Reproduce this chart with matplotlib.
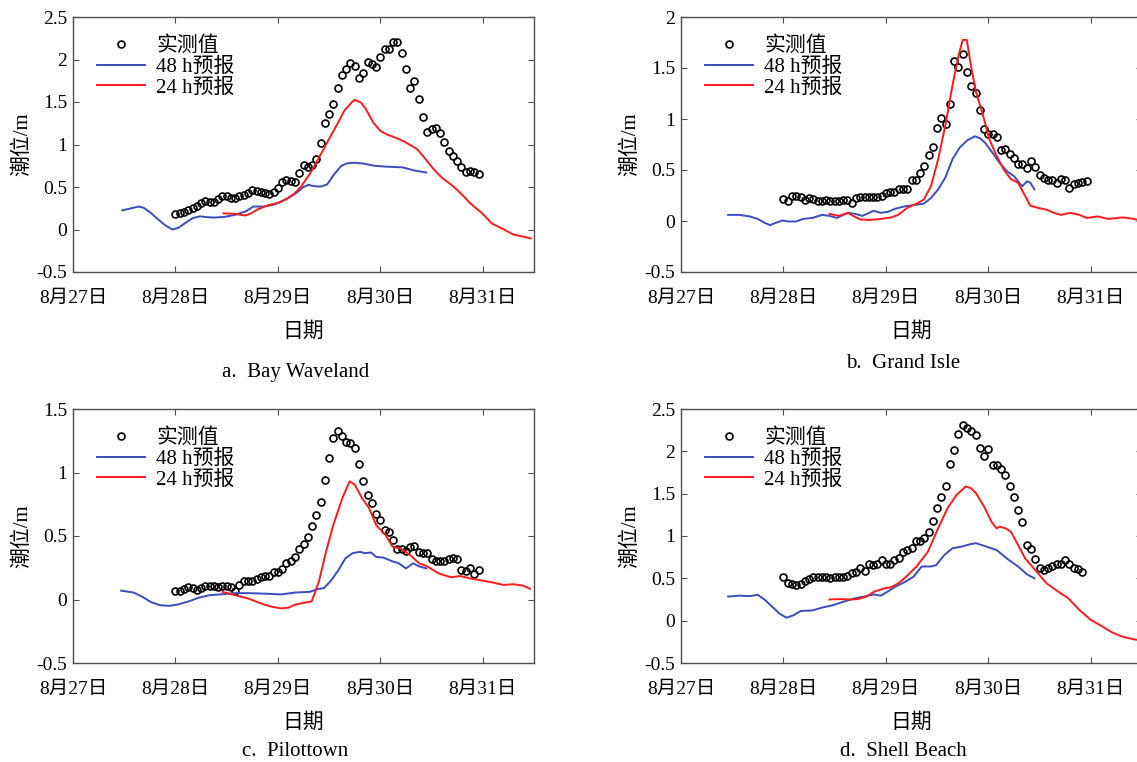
import numpy as np
import matplotlib
matplotlib.use("Agg")
import matplotlib.pyplot as plt

plt.rcParams['font.family'] = ['Liberation Serif', 'Noto Sans CJK SC']
plt.rcParams['axes.unicode_minus'] = False

# ---------------- data (x in day of August) ----------------
# a. Bay Waveland
obs_a = [0.185, 0.19, 0.21, 0.23, 0.25, 0.28, 0.315, 0.33, 0.32, 0.32, 0.355, 0.40,
         0.39, 0.365, 0.365, 0.40, 0.41, 0.43, 0.46, 0.45, 0.44, 0.43, 0.42, 0.445,
         0.49, 0.56, 0.585, 0.57, 0.56, 0.66, 0.755, 0.74, 0.755, 0.83, 1.015, 1.25,
         1.355, 1.475, 1.67, 1.815, 1.89, 1.955, 1.92, 1.78, 1.84, 1.975, 1.95, 1.91,
         2.035, 2.12, 2.12, 2.21, 2.21, 2.075, 1.89, 1.67, 1.745, 1.535, 1.32, 1.15,
         1.18, 1.19, 1.13, 1.03, 0.925, 0.865, 0.805, 0.73, 0.675, 0.69, 0.68, 0.655]
t48_a = [27.48, 27.57, 27.64, 27.69, 27.76, 27.83, 27.90, 27.97, 28.03, 28.10, 28.17,
         28.24, 28.31, 28.38, 28.49, 28.59, 28.69, 28.76, 28.87, 28.97, 29.04, 29.11,
         29.18, 29.25, 29.30, 29.35, 29.42, 29.48, 29.55, 29.62, 29.68, 29.75, 29.84,
         29.94, 30.05, 30.15, 30.22, 30.33, 30.45]
f48_a = [0.225, 0.25, 0.27, 0.255, 0.195, 0.12, 0.05, 0.0, 0.02, 0.08, 0.135, 0.155,
         0.145, 0.14, 0.15, 0.175, 0.215, 0.27, 0.27, 0.295, 0.335, 0.375, 0.43, 0.50,
         0.525, 0.51, 0.505, 0.53, 0.65, 0.75, 0.78, 0.785, 0.775, 0.75, 0.74, 0.735,
         0.73, 0.695, 0.67]
t24_a = [28.47, 28.57, 28.68, 28.73, 28.80, 28.90, 29.01, 29.08, 29.16, 29.23, 29.32,
         29.41, 29.49, 29.58, 29.65, 29.72, 29.75, 29.81, 29.86, 29.93, 30.00, 30.07,
         30.15, 30.24, 30.29, 30.36, 30.43, 30.52, 30.60, 30.71, 30.81, 30.88, 30.99,
         31.09, 31.19, 31.30, 31.40, 31.47]
f24_a = [0.19, 0.185, 0.165, 0.185, 0.235, 0.285, 0.315, 0.355, 0.42, 0.51, 0.67,
         0.865, 1.045, 1.24, 1.40, 1.495, 1.525, 1.495, 1.415, 1.26, 1.16, 1.115, 1.08,
         1.03, 0.995, 0.945, 0.845, 0.71, 0.61, 0.51, 0.395, 0.305, 0.195, 0.07, 0.01,
         -0.06, -0.085, -0.105]

# b. Grand Isle
obs_b = [0.215, 0.20, 0.245, 0.25, 0.235, 0.21, 0.23, 0.215, 0.195, 0.195, 0.21, 0.195,
         0.195, 0.195, 0.21, 0.21, 0.18, 0.225, 0.235, 0.235, 0.235, 0.235, 0.235, 0.25,
         0.27, 0.285, 0.285, 0.31, 0.31, 0.31, 0.40, 0.405, 0.475, 0.54, 0.645, 0.73,
         0.91, 1.005, 0.95, 1.15, 1.57, 1.51, 1.64, 1.465, 1.32, 1.255, 1.09, 0.90,
         0.855, 0.855, 0.82, 0.70, 0.705, 0.655, 0.62, 0.555, 0.555, 0.52, 0.585, 0.525,
         0.45, 0.425, 0.40, 0.40, 0.37, 0.415, 0.40, 0.325, 0.36, 0.375, 0.385, 0.39]
t48_b = [27.46, 27.57, 27.67, 27.75, 27.82, 27.87, 27.92, 27.99, 28.05, 28.12, 28.19,
         28.28, 28.38, 28.45, 28.52, 28.63, 28.70, 28.77, 28.88, 28.95, 29.02, 29.09,
         29.19, 29.30, 29.37, 29.44, 29.51, 29.58, 29.65, 29.72, 29.80, 29.87, 29.92,
         29.97, 30.04, 30.11, 30.18, 30.25, 30.33, 30.38, 30.41, 30.45]
f48_b = [0.06, 0.06, 0.045, 0.02, -0.02, -0.04, -0.02, 0.005, -0.005, -0.005, 0.02,
         0.03, 0.06, 0.05, 0.03, 0.08, 0.07, 0.05, 0.10, 0.08, 0.09, 0.12, 0.145, 0.16,
         0.17, 0.225, 0.31, 0.425, 0.605, 0.72, 0.795, 0.83, 0.81, 0.765, 0.67, 0.57,
         0.49, 0.44, 0.34, 0.39, 0.375, 0.31]
t24_b = [28.45, 28.54, 28.63, 28.70, 28.75, 28.84, 28.95, 29.05, 29.12, 29.21, 29.30,
         29.37, 29.44, 29.51, 29.58, 29.65, 29.71, 29.75, 29.79, 29.83, 29.88, 29.94,
         30.01, 30.08, 30.15, 30.22, 30.29, 30.36, 30.41, 30.48, 30.57, 30.64, 30.71,
         30.80, 30.89, 30.96, 31.07, 31.17, 31.31, 31.40, 31.50]
f24_b = [0.07, 0.05, 0.08, 0.04, 0.015, 0.01, 0.02, 0.035, 0.06, 0.13, 0.17, 0.21,
         0.34, 0.605, 0.935, 1.33, 1.625, 1.775, 1.775, 1.525, 1.265, 1.065, 0.80, 0.64,
         0.505, 0.41, 0.375, 0.245, 0.15, 0.13, 0.11, 0.08, 0.06, 0.08, 0.06, 0.03,
         0.045, 0.02, 0.035, 0.025, 0.0]

# c. Pilottown
obs_c = [0.07, 0.065, 0.08, 0.10, 0.09, 0.075, 0.09, 0.105, 0.11, 0.11, 0.10, 0.105,
         0.11, 0.10, 0.065, 0.115, 0.145, 0.145, 0.145, 0.165, 0.18, 0.185, 0.185, 0.215,
         0.215, 0.24, 0.285, 0.305, 0.335, 0.40, 0.44, 0.49, 0.575, 0.665, 0.77, 0.94,
         1.115, 1.27, 1.33, 1.285, 1.24, 1.23, 1.19, 1.07, 0.935, 0.82, 0.76, 0.675,
         0.625, 0.545, 0.535, 0.47, 0.40, 0.395, 0.38, 0.415, 0.425, 0.375, 0.37, 0.365,
         0.32, 0.305, 0.305, 0.305, 0.315, 0.33, 0.315, 0.235, 0.225, 0.245, 0.20, 0.235]
t48_c = [27.47, 27.59, 27.68, 27.76, 27.85, 27.94, 28.02, 28.13, 28.23, 28.34, 28.44,
         28.58, 28.72, 28.90, 29.03, 29.17, 29.31, 29.38, 29.45, 29.52, 29.59, 29.66,
         29.73, 29.80, 29.85, 29.91, 29.96, 30.03, 30.12, 30.18, 30.25, 30.32, 30.38,
         30.45]
f48_c = [0.07, 0.055, 0.02, -0.02, -0.045, -0.05, -0.04, -0.015, 0.015, 0.035, 0.04,
         0.05, 0.05, 0.045, 0.04, 0.055, 0.06, 0.08, 0.09, 0.15, 0.23, 0.325, 0.365,
         0.375, 0.365, 0.37, 0.335, 0.33, 0.30, 0.285, 0.245, 0.285, 0.26, 0.245]
t24_c = [28.46, 28.58, 28.72, 28.83, 28.93, 29.03, 29.10, 29.17, 29.26, 29.33, 29.40,
         29.47, 29.54, 29.63, 29.70, 29.75, 29.82, 29.89, 29.96, 30.05, 30.12, 30.20,
         30.29, 30.38, 30.46, 30.57, 30.69, 30.78, 30.88, 30.99, 31.09, 31.20, 31.30,
         31.39, 31.46]
f24_c = [0.06, 0.035, 0.005, -0.03, -0.055, -0.07, -0.065, -0.04, -0.025, -0.015, 0.14,
         0.375, 0.585, 0.80, 0.93, 0.905, 0.80, 0.72, 0.585, 0.51, 0.415, 0.40, 0.35,
         0.285, 0.26, 0.205, 0.175, 0.185, 0.165, 0.15, 0.135, 0.115, 0.12, 0.11, 0.085]

# d. Shell Beach
obs_d = [0.51, 0.44, 0.43, 0.42, 0.43, 0.47, 0.49, 0.515, 0.52, 0.52, 0.51, 0.50,
         0.515, 0.515, 0.51, 0.53, 0.56, 0.58, 0.625, 0.585, 0.675, 0.655, 0.675, 0.715,
         0.675, 0.675, 0.715, 0.735, 0.815, 0.835, 0.855, 0.94, 0.94, 0.98, 1.045, 1.175,
         1.325, 1.465, 1.595, 1.845, 2.015, 2.20, 2.31, 2.28, 2.245, 2.195, 2.045, 1.945,
         2.03, 1.84, 1.84, 1.79, 1.72, 1.585, 1.465, 1.305, 1.16, 0.895, 0.845, 0.725,
         0.62, 0.60, 0.62, 0.65, 0.67, 0.67, 0.715, 0.675, 0.62, 0.61, 0.57]
t48_d = [27.46, 27.57, 27.67, 27.75, 27.82, 27.89, 27.96, 28.03, 28.10, 28.17, 28.28,
         28.38, 28.49, 28.59, 28.70, 28.79, 28.88, 28.95, 29.02, 29.09, 29.19, 29.27,
         29.35, 29.44, 29.49, 29.57, 29.65, 29.74, 29.83, 29.88, 29.98, 30.08, 30.18,
         30.29, 30.38, 30.45]
f48_d = [0.285, 0.295, 0.29, 0.305, 0.245, 0.165, 0.085, 0.035, 0.065, 0.115, 0.12,
         0.155, 0.185, 0.225, 0.265, 0.285, 0.31, 0.295, 0.345, 0.40, 0.46, 0.52, 0.64,
         0.64, 0.655, 0.775, 0.855, 0.875, 0.905, 0.915, 0.875, 0.835, 0.735, 0.64,
         0.545, 0.50]
t24_d = [28.45, 28.56, 28.66, 28.73, 28.81, 28.89, 28.98, 29.05, 29.12, 29.19, 29.30,
         29.41, 29.51, 29.60, 29.69, 29.78, 29.83, 29.88, 29.96, 30.03, 30.08, 30.11,
         30.17, 30.22, 30.29, 30.36, 30.47, 30.57, 30.68, 30.78, 30.89, 31.00, 31.10,
         31.21, 31.31, 31.42, 31.50]
f24_d = [0.25, 0.255, 0.25, 0.255, 0.285, 0.345, 0.38, 0.395, 0.44, 0.51, 0.64, 0.815,
         1.09, 1.325, 1.485, 1.585, 1.565, 1.505, 1.345, 1.17, 1.09, 1.11, 1.09, 1.05,
         0.895, 0.735, 0.58, 0.44, 0.345, 0.265, 0.125, 0.01, -0.06, -0.14, -0.19, -0.22,
         -0.235]

day_ticks = [27, 28, 29, 30, 31]
day_labels = ['8月27日', '8月28日', '8月29日', '8月30日', '8月31日']
captions = ['a.  Bay Waveland', 'b.  Grand Isle', 'c.  Pilottown', 'd.  Shell Beach']
ytops = [2.5, 2.0, 1.5, 2.5]

panels = [(obs_a, t48_a, f48_a, t24_a, f24_a),
          (obs_b, t48_b, f48_b, t24_b, f24_b),
          (obs_c, t48_c, f48_c, t24_c, f24_c),
          (obs_d, t48_d, f48_d, t24_d, f24_d)]

W, H = 1137, 762
fig = plt.figure(figsize=(W / 100, H / 100), dpi=100)

# axes boxes in pixels: left, top, right, bottom
boxes = [(73, 17, 534, 272), (681, 17, 1142, 272),
         (73, 409, 534, 663), (681, 409, 1142, 663)]
cap_y = [372, 364, 752, 752]
frame_col = '#505050'

for i, (obs, t48, f48, t24, f24) in enumerate(panels):
    l, t, r, b = boxes[i]
    ax = fig.add_axes([l / W, 1 - b / H, (r - l) / W, (b - t) / H])
    obs_t = 28 + np.arange(len(obs)) / 24.0
    ax.plot(obs_t, obs, 'o', ms=5, mfc='none', mec='black', mew=1.2, label='实测值')
    ax.plot(t48, f48, color='#3a4cc0', lw=1.4, label='48 h预报')
    ax.plot(t24, f24, color='#ff1a1a', lw=1.4, label='24 h预报')
    ax.set_xlim(27, 31.5)
    ax.set_ylim(-0.5, ytops[i])
    yt = np.arange(-0.5, ytops[i] + 0.01, 0.5)
    ax.set_yticks(yt)
    ax.set_yticklabels(['%g' % v for v in yt])
    ax.set_xticks(day_ticks)
    ax.set_xticklabels(day_labels)
    ax.tick_params(direction='in', top=True, right=True, labelsize=14,
                   length=4, width=0.8, color=frame_col)
    ax.tick_params(axis='x', pad=13)
    ax.tick_params(axis='y', pad=4)
    for s in ax.spines.values():
        s.set_color(frame_col)
        s.set_linewidth(1.0)
    ax.set_xlabel('日期', fontsize=15, labelpad=11)
    ax.set_ylabel('潮位/m', fontsize=15, labelpad=3)
    ax.legend(loc='upper left', bbox_to_anchor=(0.02, 0.98), frameon=False,
              fontsize=15, handlelength=2.3, handletextpad=0.55,
              labelspacing=0.05, borderpad=0.2)
    fig.text(((l + r) / 2 - 8) / W, 1 - cap_y[i] / H, captions[i],
             ha='center', va='center', fontsize=15)

fig.savefig('out.png', dpi=100)
